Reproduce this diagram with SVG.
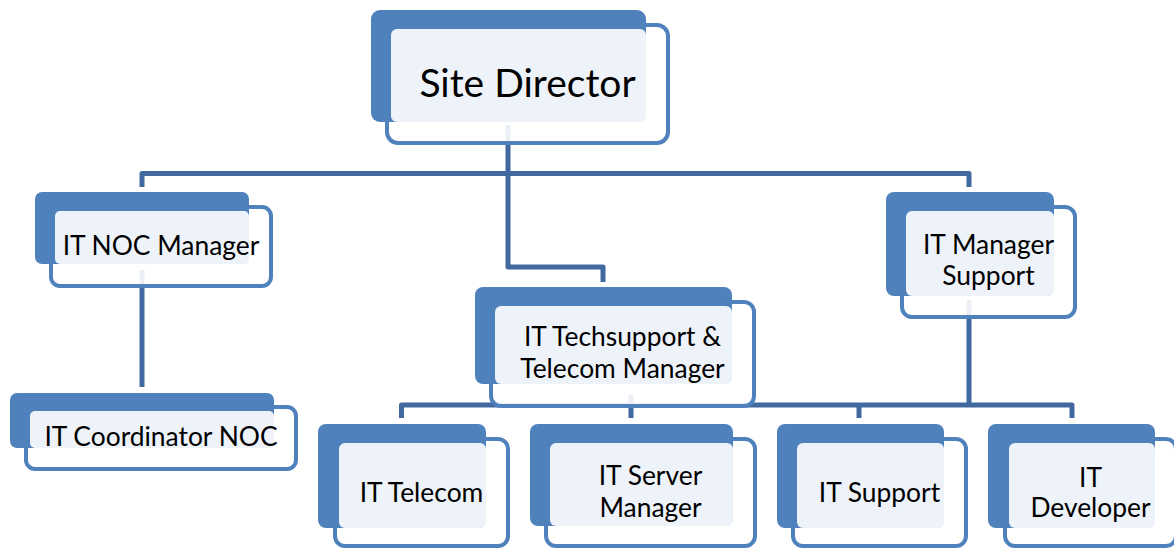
<svg xmlns="http://www.w3.org/2000/svg" width="1174" height="548" viewBox="0 0 1174 548">
<style>
.bg{fill:#4F81BD}
.fr{fill:#FFFFFF;fill-opacity:0.9;stroke:#4F81BD;stroke-width:4}
.lt{fill:#EEF2F9}
.t{font-family:Lato,"Liberation Sans",sans-serif;font-size:26.4px;fill:#000;text-anchor:middle}
.big{font-size:39px}
.c{fill:none;stroke:#41699F;stroke-width:5;stroke-linejoin:round}
</style>
<rect width="1174" height="548" fill="#FFFFFF"/>
<g id="connectors">
<path class="c" d="M508,125 V267 H603 V282"/>
<path class="c" d="M142,187 V173.5 H969 V187"/>
<path class="c" d="M142,270 V387"/>
<path class="c" d="M401.5,418 V405 H1072 V418"/>
<path class="c" d="M631,395 V418"/>
<path class="c" d="M859,405 V418"/>
<path class="c" d="M969,300 V405"/>
</g>
<g id="site-director">
<rect class="fr" x="387" y="25" width="281" height="118" rx="11"/>
<rect class="bg" x="371" y="10" width="275" height="112" rx="9"/>
<rect class="lt" x="391" y="29" width="255" height="93" rx="6"/>
<text class="t big" x="527.5" y="97">Site Director</text>
</g>
<g id="it-noc-manager">
<rect class="fr" x="51" y="207" width="220" height="79" rx="9"/>
<rect class="bg" x="35" y="192" width="214" height="72" rx="7"/>
<rect class="lt" x="55" y="211" width="194" height="53" rx="5"/>
<text class="t" x="161" y="255">IT NOC Manager</text>
</g>
<g id="it-coordinator-noc">
<rect class="fr" x="26" y="407" width="270" height="62" rx="9"/>
<rect class="bg" x="10" y="393" width="264" height="55" rx="7"/>
<rect class="lt" x="30" y="411" width="244" height="37" rx="5"/>
<text class="t" x="161" y="446">IT Coordinator NOC</text>
</g>
<g id="it-techsupport">
<rect class="fr" x="491" y="302" width="263" height="104" rx="10"/>
<rect class="bg" x="475" y="287" width="257" height="97" rx="8"/>
<rect class="lt" x="495" y="306" width="237" height="78" rx="6"/>
<text class="t" x="622.5" y="346">IT Techsupport &amp;</text>
<text class="t" x="622.5" y="378">Telecom Manager</text>
</g>
<g id="it-manager-support">
<rect class="fr" x="902" y="207" width="173" height="110" rx="10"/>
<rect class="bg" x="886" y="192" width="168" height="104" rx="8"/>
<rect class="lt" x="906" y="211" width="148" height="85" rx="6"/>
<text class="t" x="988.5" y="254">IT Manager</text>
<text class="t" x="988.5" y="285">Support</text>
</g>
<g id="it-telecom">
<rect class="fr" x="335" y="439" width="173" height="107" rx="10"/>
<rect class="bg" x="318" y="424" width="168" height="104" rx="8"/>
<rect class="lt" x="339" y="443" width="147" height="85" rx="6"/>
<text class="t" x="421.5" y="502">IT Telecom</text>
</g>
<g id="it-server-manager">
<rect class="fr" x="546" y="439" width="209" height="107" rx="10"/>
<rect class="bg" x="530" y="424" width="203" height="102" rx="8"/>
<rect class="lt" x="550" y="443" width="183" height="83" rx="6"/>
<text class="t" x="650.5" y="485">IT Server</text>
<text class="t" x="650.5" y="517">Manager</text>
</g>
<g id="it-support">
<rect class="fr" x="793" y="439" width="173" height="107" rx="10"/>
<rect class="bg" x="777" y="424" width="167" height="104" rx="8"/>
<rect class="lt" x="797" y="443" width="147" height="85" rx="6"/>
<text class="t" x="879.5" y="502">IT Support</text>
</g>
<g id="it-developer">
<rect class="fr" x="1005" y="439" width="171" height="107" rx="10"/>
<rect class="bg" x="988" y="424" width="167" height="104" rx="8"/>
<rect class="lt" x="1009" y="443" width="146" height="85" rx="6"/>
<text class="t" x="1090.5" y="487">IT</text>
<text class="t" x="1090.5" y="517">Developer</text>
</g>
</svg>
